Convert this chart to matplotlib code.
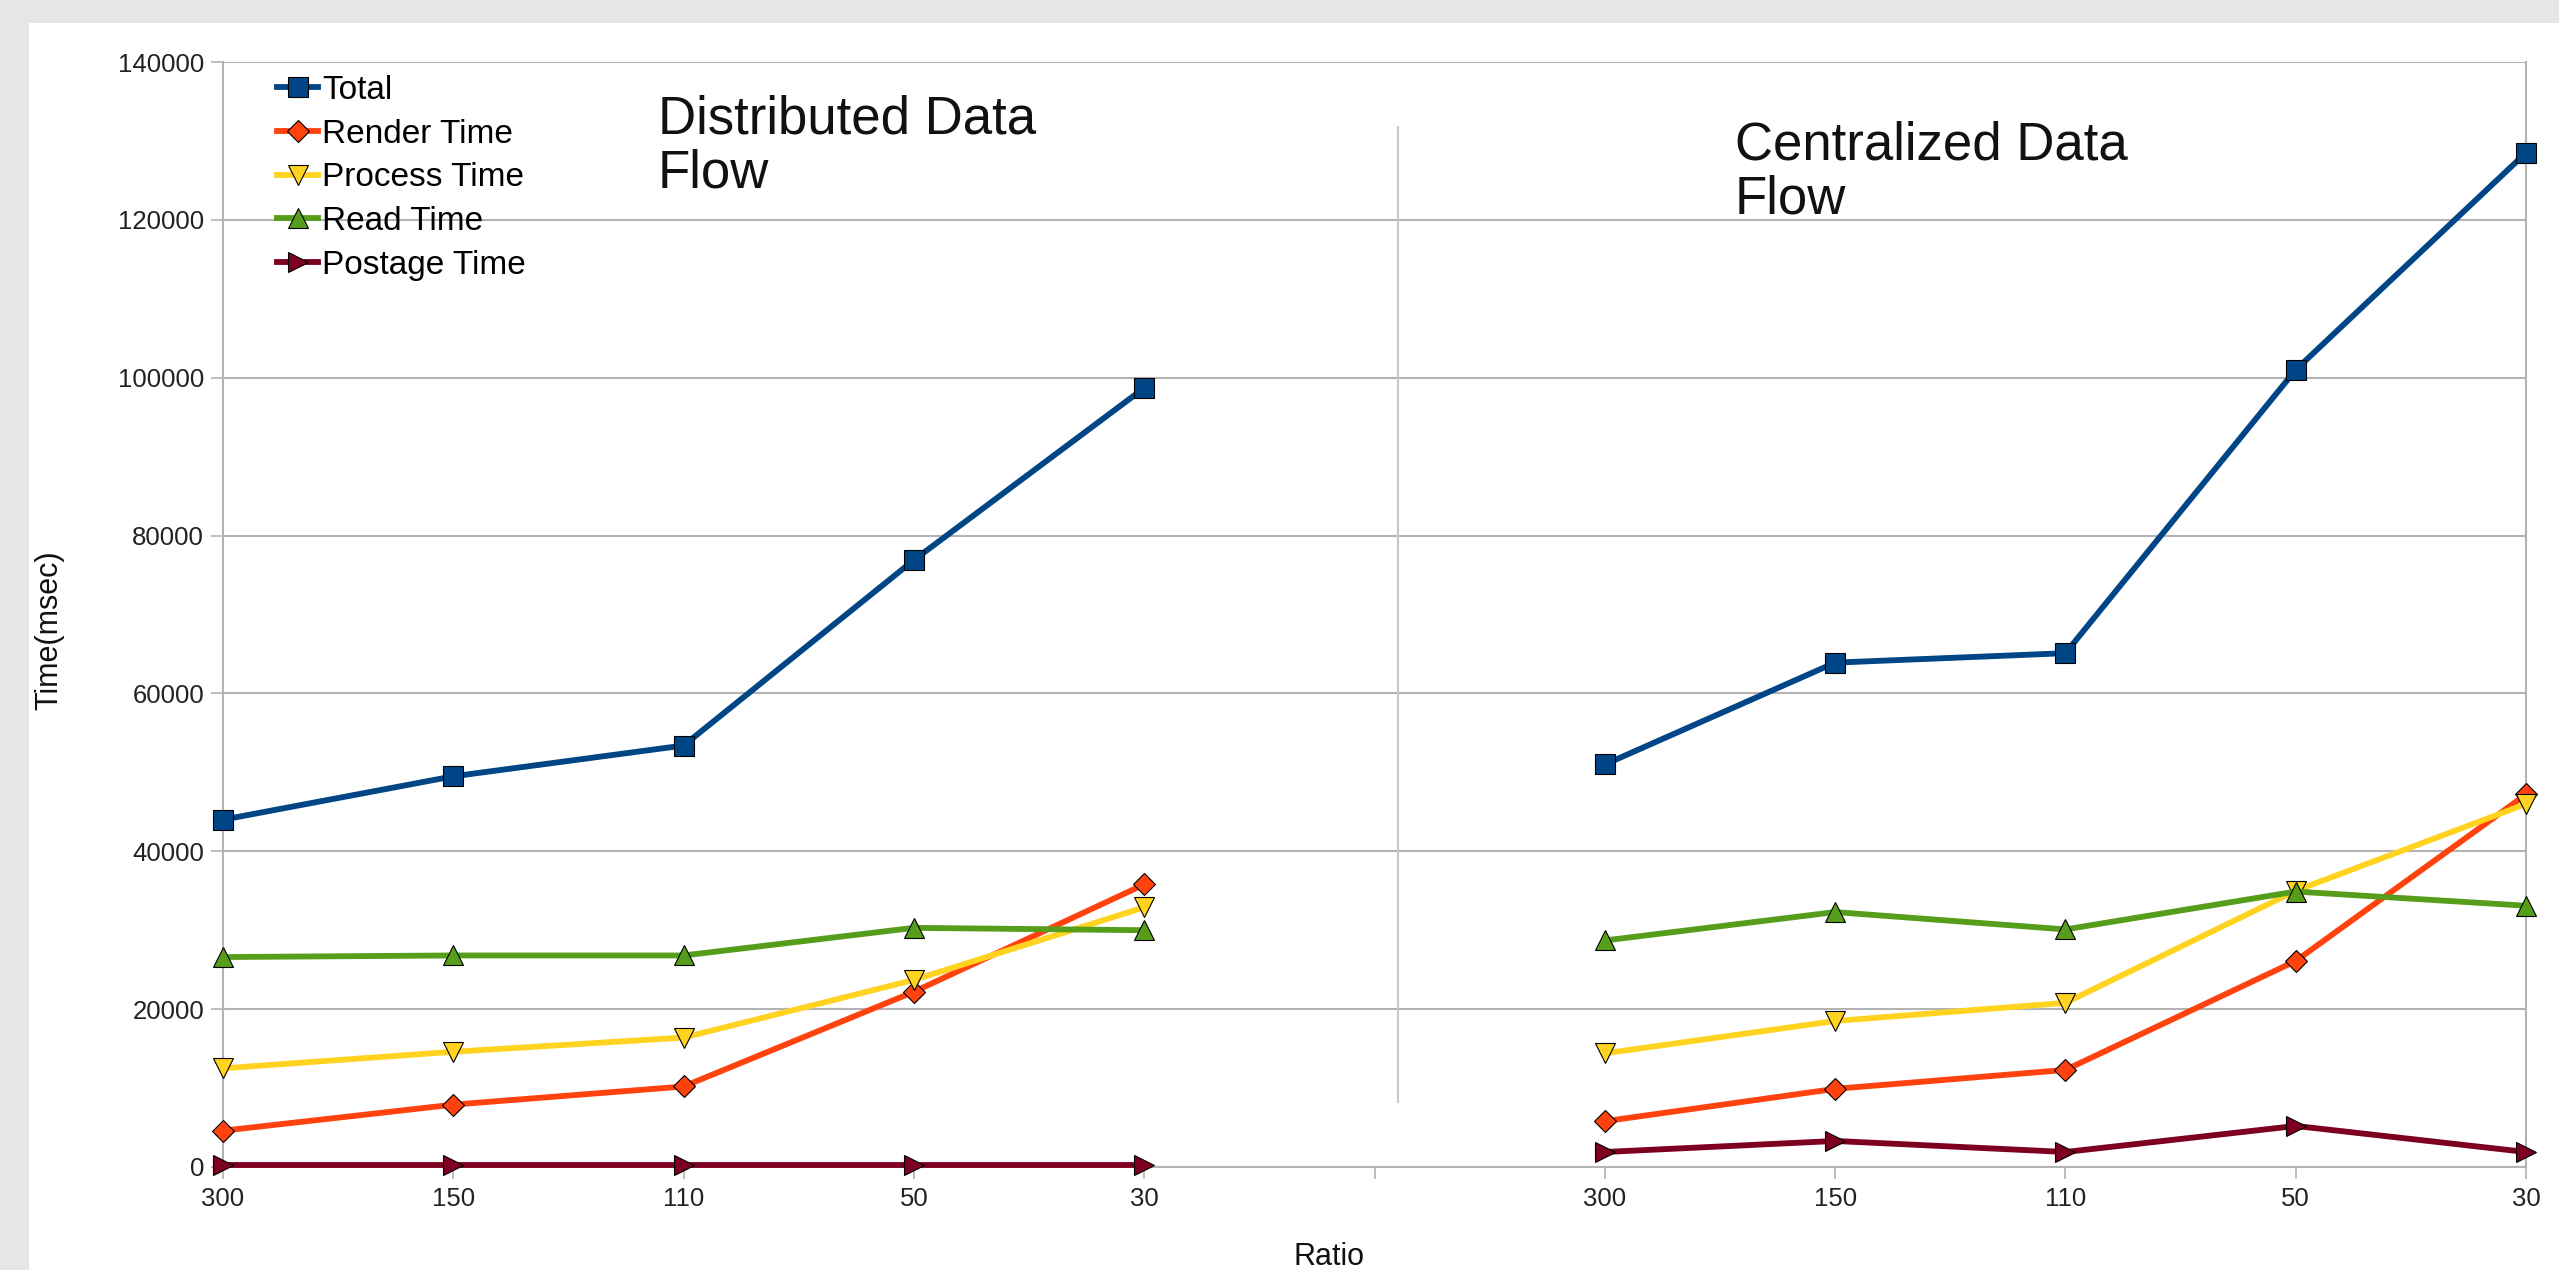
import numpy as np
import matplotlib
matplotlib.use('Agg')
from matplotlib import pyplot as plt
from matplotlib.patches import Rectangle

plt.rcParams['font.family'] = ['Liberation Sans', 'DejaVu Sans']

ratios = ['300', '150', '110', '50', '30']
series = ['Total', 'Render Time', 'Process Time', 'Read Time', 'Postage Time']

# distributed data flow
dist_total = [44000, 49500, 53400, 76900, 98700]
dist_render = [4600, 7900, 10200, 22200, 35800]
dist_process = [12500, 14600, 16400, 23700, 32900]
dist_read = [26600, 26800, 26800, 30300, 30000]
dist_postage = [200, 200, 200, 200, 200]

# centralized data flow
cent_total = [51000, 63900, 65100, 101000, 128500]
cent_render = [5800, 9900, 12300, 26100, 47200]
cent_process = [14400, 18500, 20800, 35000, 46000]
cent_read = [28700, 32300, 30100, 34900, 33100]
cent_postage = [1900, 3300, 1900, 5200, 1900]

colors = ['#004586', '#ff420e', '#ffd320', '#579d1c', '#7e0021']
markers = ['s', 'D', 'v', '^', '>']
msizes = [15, 11, 15, 15, 15]

W, H = 2559, 1270
fig = plt.figure(figsize=(W / 100, H / 100), dpi=100)
fig.patch.set_facecolor('#e6e6e6')
fig.patches.append(Rectangle((29 / W, 0), 1, 1 - 23 / H, transform=fig.transFigure,
                             facecolor='white', edgecolor='none', zorder=-10))

ax = fig.add_axes([223 / W, 1 - 1167 / H, (2526 - 223) / W, (1167 - 62) / H])
ax.set_facecolor('none')

dist = [dist_total, dist_render, dist_process, dist_read, dist_postage]
cent = [cent_total, cent_render, cent_process, cent_read, cent_postage]
x_left = np.arange(5)
x_right = np.arange(6, 11)

for i in range(5):
    for xs, ys, lab in [(x_left, dist[i], series[i]), (x_right, cent[i], None)]:
        ax.plot(xs, ys, color=colors[i], lw=4.2, marker=markers[i], ms=msizes[i],
                mfc=colors[i], mec='black', mew=0.8, label=lab, zorder=3, clip_on=False)

ax.set_xlim(0, 10)
ax.set_ylim(0, 140000)
ax.set_yticks(np.arange(0, 140001, 20000))
ax.set_xticks(np.arange(11))
ax.set_xticklabels(ratios + [''] + ratios)
ax.yaxis.grid(True, color='#b3b3b3', lw=1.5)
ax.set_axisbelow(True)
ax.spines['top'].set_visible(False)
for s in ['left', 'right', 'bottom']:
    ax.spines[s].set_color('#b3b3b3')
    ax.spines[s].set_linewidth(1.5)
ax.tick_params(axis='both', colors='#b3b3b3', labelcolor='#222222', labelsize=18.5,
               length=8.5, width=1.2)
ax.tick_params(axis='x', pad=6)
ax.tick_params(axis='y', pad=5)

# divider between the two groups
ax.axvline(5.104, ymin=0.059, ymax=0.941, color='#c8c8c8', lw=1.5, zorder=1)

fig.text(49 / W, 1 - 630 / H, 'Time(msec)', rotation=90, ha='center', va='center',
         fontsize=22, color='#111111')
fig.text(1329 / W, 1 - 1257 / H, 'Ratio', ha='center', va='center',
         fontsize=22, color='#111111')

fig.text(658 / W, 1 - 188 / H, 'Distributed Data\nFlow', ha='left', va='baseline',
         fontsize=38, linespacing=1.12, color='#111111')
fig.text(1735 / W, 1 - 214 / H, 'Centralized Data\nFlow', ha='left', va='baseline',
         fontsize=38, linespacing=1.12, color='#111111')

ax.legend(loc='upper left', bbox_to_anchor=(277 / W, 1 - 75 / H),
          bbox_transform=fig.transFigure, frameon=False, fontsize=24,
          handlelength=1.23, handletextpad=0.12, labelspacing=0.38,
          borderpad=0, borderaxespad=0)

fig.savefig('out.png', dpi=100, facecolor=fig.get_facecolor())
